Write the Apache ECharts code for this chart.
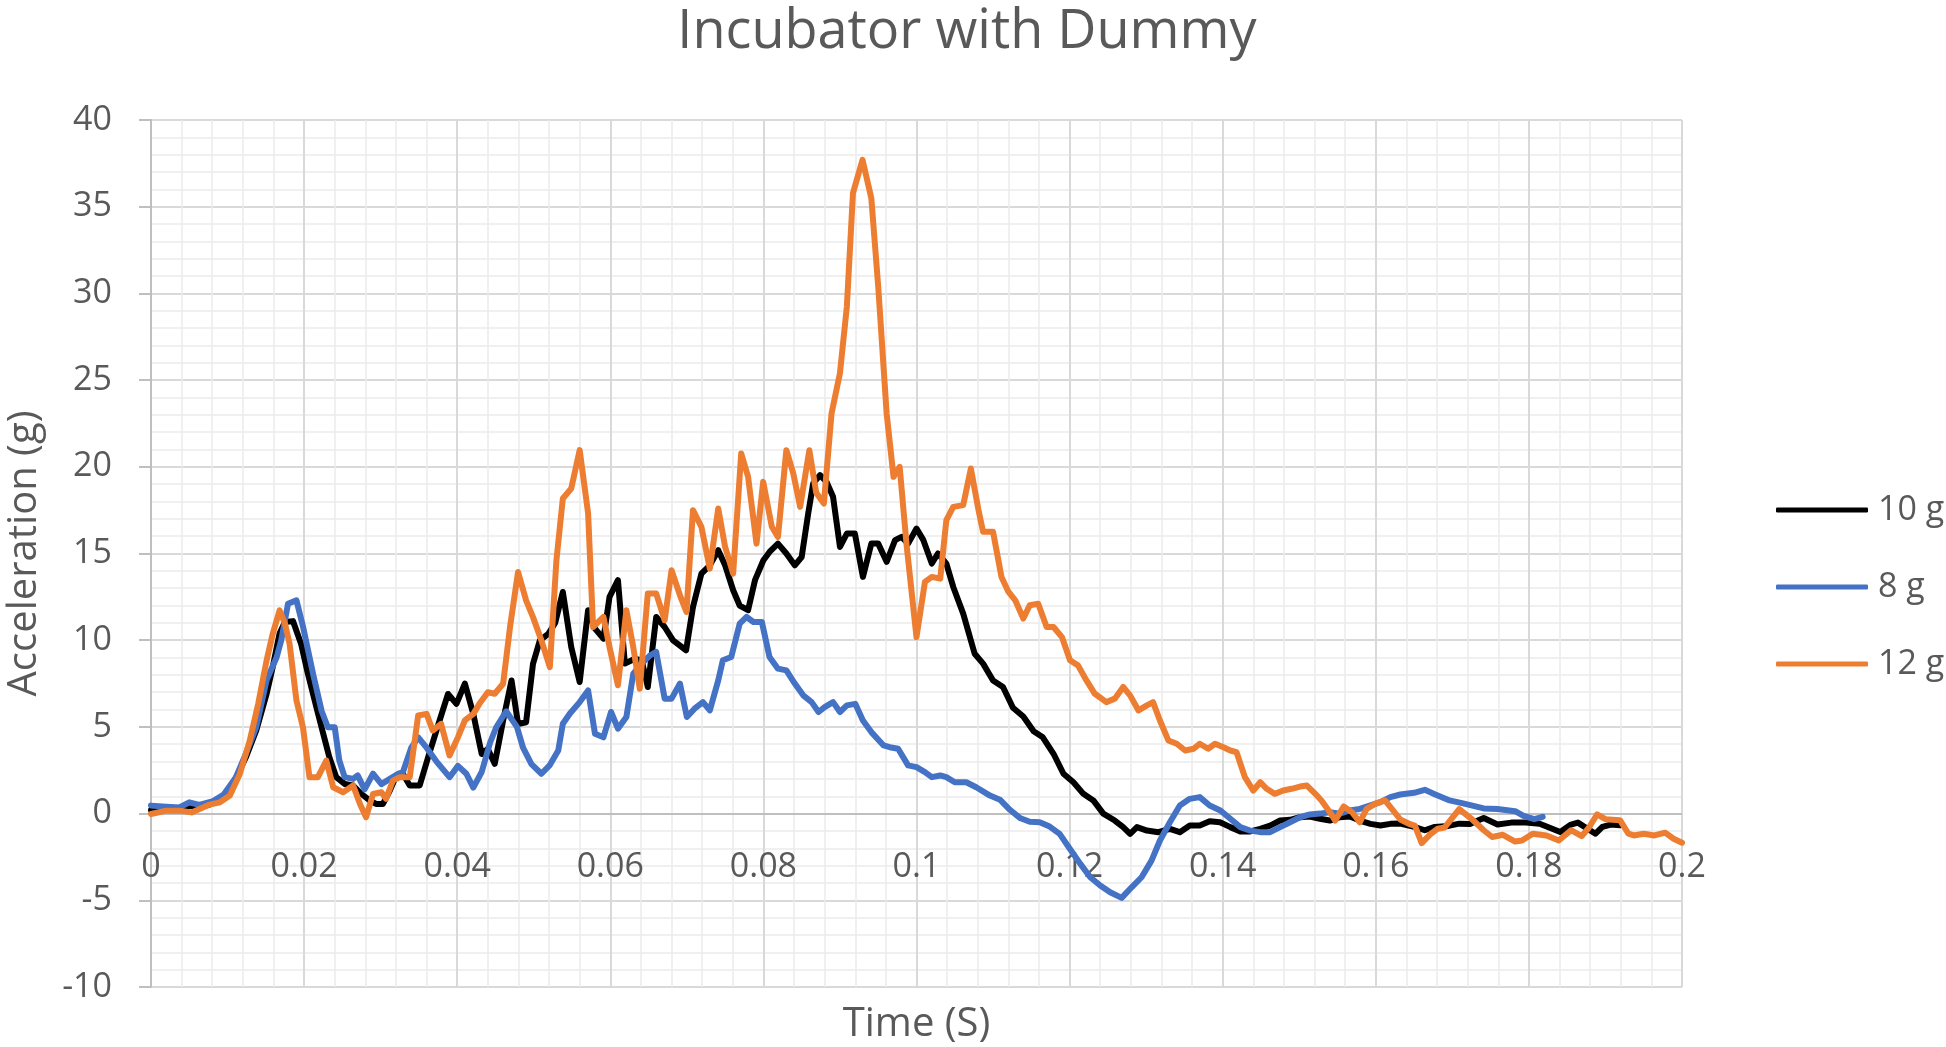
<!DOCTYPE html>
<html>
<head>
<meta charset="utf-8">
<script src="https://cdn.jsdelivr.net/npm/echarts@6/dist/echarts.min.js"></script>
<style>
html,body{margin:0;padding:0;background:#ffffff;}
#chart{width:1946px;height:1047px;}
</style>
</head>
<body>
<div id="chart"></div>
<script>
// ---- Data (time in s, acceleration in g) ----
const chartTitle = 'Incubator with Dummy';
const xTitle = 'Time (S)';
const yTitle = 'Acceleration (g)';
const seriesNames = ['10 g', '8 g', '12 g'];
const seriesColors = ['#000000', '#4472C4', '#ED7D31'];

const s10g = [
[0,0.2],[0.002,0.25],[0.004,0.3],[0.005,0.45],[0.006,0.4],[0.0075,0.5],[0.009,0.8],[0.010,1.2],
[0.0107,1.71],[0.0124,3.25],[0.01375,4.79],[0.0151,6.9],[0.0159,8.45],[0.0168,10.4],[0.0175,11.05],[0.01855,11.1],
[0.0196,9.8],[0.0205,8.06],[0.0216,6.14],[0.0225,4.6],[0.0233,3.25],[0.0242,2.1],[0.0253,1.71],[0.0264,1.62],
[0.0275,1.13],[0.0286,0.75],[0.0294,0.56],[0.0303,0.56],[0.0312,1.33],[0.03205,2.2],[0.0329,2.3],[0.0338,1.62],
[0.0351,1.62],[0.0362,3.25],[0.0377,5.37],[0.0388,6.9],[0.0399,6.33],[0.0410,7.5],[0.0421,5.75],[0.0432,3.44],
[0.0440,3.73],[0.0449,2.87],[0.0460,5.37],[0.0471,7.68],[0.04795,5.17],[0.0490,5.27],[0.0499,8.64],[0.0508,9.99],
[0.0519,10.37],[0.0528,11.0],[0.0538,12.78],[0.0549,9.6],[0.0560,7.59],[0.0571,11.73],[0.0580,10.67],[0.0591,10.09],
[0.0599,12.5],[0.0610,13.46],[0.0619,8.65],[0.0632,8.93],[0.0641,8.84],[0.0649,7.3],[0.0660,11.34],[0.0671,10.76],
[0.0682,9.99],[0.0699,9.42],[0.0708,11.92],[0.0719,13.84],[0.0730,14.32],[0.0741,15.19],[0.0750,14.32],[0.07605,12.88],
[0.0769,12.0],[0.0780,11.73],[0.0789,13.46],[0.0800,14.61],[0.0808,15.09],[0.0819,15.57],[0.0830,15.0],[0.0841,14.32],
[0.0850,14.8],[0.08585,17.3],[0.0865,19.04],[0.0874,19.52],[0.08825,19.13],[0.0891,18.27],[0.0900,15.38],[0.0909,16.15],
[0.09195,16.15],[0.0930,13.65],[0.0941,15.57],[0.0950,15.57],[0.0961,14.52],[0.0972,15.77],[0.09805,15.96],[0.0989,15.57],
[0.1000,16.44],[0.1009,15.77],[0.1020,14.42],[0.1028,15.0],[0.1039,14.42],[0.1048,13.07],[0.1061,11.53],[0.1076,9.22],
[0.1087,8.65],[0.1100,7.68],[0.1113,7.3],[0.1126,6.1],[0.11395,5.6],[0.1153,4.75],[0.1165,4.4],[0.1179,3.45],
[0.1192,2.3],[0.1205,1.81],[0.1218,1.14],[0.1231,0.76],[0.1244,0],[0.1259,-0.4],[0.1270,-0.78],[0.1279,-1.17],
[0.1288,-0.78],[0.1301,-0.98],[0.1316,-1.07],[0.1331,-0.88],[0.1344,-1.07],[0.1357,-0.69],[0.1370,-0.69],[0.1383,-0.44],
[0.13965,-0.5],[0.1410,-0.78],[0.1423,-1.03],[0.1436,-1.03],[0.1449,-0.88],[0.1462,-0.69],[0.1475,-0.4],[0.1488,-0.36],
[0.1501,-0.21],[0.1514,-0.17],[0.1527,-0.3],[0.1540,-0.4],[0.1553,-0.21],[0.1566,-0.17],[0.1579,-0.4],[0.1593,-0.59],
[0.1606,-0.69],[0.1619,-0.59],[0.1632,-0.57],[0.1650,-0.77],[0.1664,-0.96],[0.1677,-0.77],[0.1695,-0.71],[0.1709,-0.58],
[0.1723,-0.6],[0.1741,-0.25],[0.1759,-0.63],[0.1777,-0.52],[0.1796,-0.52],[0.1814,-0.58],[0.1828,-0.83],[0.1841,-1.06],
[0.1855,-0.63],[0.1864,-0.52],[0.1875,-0.83],[0.1887,-1.16],[0.1896,-0.77],[0.1907,-0.63],[0.1919,-0.67]
];

const s8g = [
[0,0.46],[0.002,0.4],[0.0037,0.35],[0.005,0.65],[0.0063,0.5],[0.008,0.7],[0.0095,1.1],[0.0111,2.1],
[0.0124,3.45],[0.01375,4.99],[0.0151,7.7],[0.0164,9.0],[0.017,9.97],[0.0179,12.1],[0.019,12.3],[0.0199,10.7],
[0.0212,8.0],[0.0223,5.9],[0.0231,4.98],[0.024,4.98],[0.0246,3.06],[0.0253,2.1],[0.0264,2.0],[0.027,2.2],
[0.0279,1.4],[0.029,2.3],[0.0301,1.7],[0.0312,2.0],[0.0323,2.3],[0.0329,2.38],[0.034,3.8],[0.0349,4.4],
[0.036,3.8],[0.0373,3.0],[0.039,2.1],[0.0401,2.75],[0.0412,2.3],[0.0421,1.5],[0.0432,2.4],[0.0443,4.1],
[0.0451,4.98],[0.0464,5.9],[0.0478,5.0],[0.0486,3.8],[0.0497,2.85],[0.051,2.3],[0.0521,2.8],[0.0532,3.64],
[0.0538,5.18],[0.0547,5.76],[0.056,6.43],[0.0571,7.1],[0.058,4.6],[0.0591,4.4],[0.0601,5.86],[0.061,4.9],
[0.0621,5.57],[0.063,8.07],[0.0641,8.65],[0.0652,9.13],[0.066,9.32],[0.0671,6.63],[0.068,6.63],[0.0691,7.5],
[0.07,5.57],[0.071,6.05],[0.0721,6.43],[0.073,5.95],[0.0741,7.68],[0.0747,8.84],[0.0758,9.03],[0.0769,10.95],
[0.0778,11.34],[0.0787,11.05],[0.0798,11.05],[0.0808,9.03],[0.0819,8.36],[0.083,8.26],[0.0841,7.5],[0.0852,6.82],
[0.0863,6.43],[0.0872,5.86],[0.088,6.14],[0.0891,6.43],[0.09,5.86],[0.0909,6.24],[0.092,6.33],[0.093,5.37],
[0.0941,4.7],[0.0957,3.93],[0.0965,3.83],[0.0976,3.74],[0.0989,2.78],[0.1,2.68],[0.1011,2.39],[0.102,2.1],
[0.1031,2.2],[0.1039,2.1],[0.105,1.81],[0.1065,1.81],[0.1078,1.52],[0.1096,1.04],[0.1109,0.8],[0.1122,0.22],
[0.1135,-0.25],[0.1148,-0.47],[0.1161,-0.5],[0.1174,-0.75],[0.1187,-1.17],[0.12005,-2.04],[0.1214,-2.9],[0.1227,-3.67],
[0.124,-4.15],[0.1253,-4.54],[0.1268,-4.86],[0.1281,-4.25],[0.1294,-3.67],[0.1307,-2.71],[0.1318,-1.55],[0.1331,-0.5],
[0.1344,0.47],[0.1357,0.85],[0.137,0.95],[0.1383,0.47],[0.1397,0.18],[0.141,-0.3],[0.1423,-0.78],[0.1436,-0.98],
[0.1449,-1.07],[0.1462,-1.07],[0.1475,-0.78],[0.1488,-0.5],[0.1501,-0.21],[0.1514,-0.05],[0.1527,0],[0.154,0.08],
[0.1553,0],[0.1566,0.18],[0.1579,0.27],[0.1593,0.47],[0.1606,0.66],[0.1619,0.95],[0.1632,1.1],[0.165,1.2],
[0.1664,1.37],[0.1677,1.12],[0.1695,0.78],[0.1714,0.59],[0.1741,0.3],[0.1759,0.26],[0.1782,0.14],[0.1793,-0.13],
[0.1807,-0.32],[0.1818,-0.19]
];

const s12g = [
[0,-0.02],[0.002,0.17],[0.0037,0.17],[0.0053,0.07],[0.00635,0.27],[0.00765,0.52],[0.009,0.65],[0.0103,1.04],
[0.0116,2.29],[0.0129,4.21],[0.014,6.33],[0.0151,8.83],[0.0159,10.37],[0.0168,11.72],[0.0175,10.95],[0.0181,9.8],
[0.019,6.52],[0.01985,4.98],[0.0207,2.1],[0.0218,2.1],[0.0229,3.06],[0.0238,1.52],[0.0251,1.23],[0.0264,1.62],
[0.0273,0.56],[0.0281,-0.21],[0.029,1.13],[0.0301,1.23],[0.0307,0.85],[0.0316,1.9],[0.0325,2.1],[0.0338,2.1],
[0.0349,5.66],[0.036,5.75],[0.0368,4.79],[0.0379,5.17],[0.039,3.35],[0.0401,4.41],[0.041,5.37],[0.0421,5.75],
[0.0429,6.33],[0.044,7.0],[0.0449,6.91],[0.046,7.49],[0.0469,10.76],[0.04795,13.93],[0.049,12.3],[0.0499,11.33],
[0.051,9.99],[0.0521,8.45],[0.05296,14.6],[0.0538,18.17],[0.0549,18.75],[0.056,20.96],[0.0571,17.31],[0.05775,10.76],
[0.0591,11.34],[0.0599,9.6],[0.061,7.4],[0.0621,11.73],[0.063,9.6],[0.06385,7.2],[0.0649,12.69],[0.066,12.69],
[0.0671,11.15],[0.068,14.03],[0.0691,12.59],[0.06995,11.63],[0.0708,17.5],[0.0719,16.54],[0.073,14.13],[0.0741,17.6],
[0.075,15.38],[0.07605,13.84],[0.0771,20.77],[0.078,19.42],[0.0791,15.57],[0.07997,19.13],[0.0811,16.54],[0.0819,15.96],
[0.083,20.96],[0.0839,19.62],[0.0848,17.69],[0.086,20.96],[0.0869,18.5],[0.0879,17.88],[0.0889,23.07],[0.09,25.4],
[0.0909,29.23],[0.0917,35.78],[0.09295,37.7],[0.0941,35.49],[0.095,30.39],[0.0961,23.07],[0.097,19.42],[0.0978,20.0],
[0.0987,15.5],[0.1,10.18],[0.1011,13.36],[0.102,13.65],[0.1031,13.55],[0.1039,16.92],[0.1048,17.69],[0.1061,17.79],
[0.1071,19.9],[0.1081,17.5],[0.1087,16.25],[0.11,16.25],[0.1111,13.65],[0.112,12.8],[0.1129,12.3],[0.11395,11.25],
[0.1148,12.02],[0.1159,12.1],[0.117,10.76],[0.1179,10.76],[0.119,10.18],[0.12005,8.84],[0.1211,8.55],[0.1222,7.68],
[0.1233,6.91],[0.1248,6.43],[0.1259,6.63],[0.127,7.3],[0.1279,6.82],[0.129,5.95],[0.1301,6.24],[0.1309,6.43],
[0.1318,5.37],[0.1329,4.22],[0.134,4.03],[0.1351,3.64],[0.1362,3.74],[0.137,4.03],[0.1381,3.74],[0.139,4.03],
[0.1401,3.83],[0.141,3.64],[0.1418,3.55],[0.1429,2.1],[0.144,1.33],[0.1449,1.81],[0.14575,1.43],[0.1468,1.14],
[0.1479,1.33],[0.149,1.43],[0.1501,1.56],[0.151,1.62],[0.1521,1.14],[0.1529,0.76],[0.154,0.08],[0.1547,-0.4],
[0.1558,0.41],[0.1569,0.08],[0.1579,-0.5],[0.1588,0.27],[0.1599,0.56],[0.1612,0.76],[0.1621,0.27],[0.1632,-0.34],
[0.1644,-0.6],[0.1651,-0.69],[0.166,-1.7],[0.1672,-1.16],[0.1681,-0.87],[0.169,-0.8],[0.1709,0.26],[0.1727,-0.38],
[0.1741,-0.96],[0.1752,-1.35],[0.1766,-1.22],[0.1782,-1.61],[0.1791,-1.55],[0.1805,-1.16],[0.1823,-1.26],[0.1839,-1.55],
[0.1855,-0.96],[0.1869,-1.3],[0.1878,-0.83],[0.1889,-0.05],[0.19,-0.32],[0.1919,-0.38],[0.193,-1.16],[0.1937,-1.26],
[0.195,-1.16],[0.1964,-1.26],[0.1978,-1.1],[0.1989,-1.45],[0.2,-1.68]
];

const xMin = 0, xMax = 0.2, xStep = 0.02;
const yMin = -10, yMax = 40, yStep = 5;
const xAxisCrossAt = 0; // horizontal axis crosses the vertical axis at y = 0

// ---- Chart ----
const FONT = '"Open Sans"';
const TXT = '#595959';
const chart = echarts.init(document.getElementById('chart'), null, {renderer: 'canvas'});
const seriesData = [s10g, s8g, s12g];

chart.setOption({
  animation: false,
  backgroundColor: '#ffffff',
  textStyle: {fontFamily: FONT},
  title: {
    text: chartTitle,
    left: 962,
    textAlign: 'center',
    top: 1,
    textStyle: {fontFamily: FONT, fontSize: 54, fontWeight: 'normal', color: TXT}
  },
  legend: {
    orient: 'vertical',
    left: 1771,
    top: 485,
    icon: 'roundRect',
    itemWidth: 92,
    itemHeight: 5,
    itemGap: 37,
    data: seriesNames,
    textStyle: {fontFamily: FONT, fontSize: 34, color: TXT, lineHeight: 40, padding: [0, 0, 0, 5]}
  },
  grid: {left: 151, top: 120, width: 1531, height: 867, containLabel: false, outerBoundsMode: 'none'},
  xAxis: {
    type: 'value', min: xMin, max: xMax, interval: xStep,
    name: xTitle, nameLocation: 'middle', nameGap: 18,
    nameTextStyle: {fontFamily: FONT, fontSize: 40, color: TXT},
    axisLine: {show: false, onZero: false},
    axisTick: {show: false},
    axisLabel: {
      color: TXT, fontFamily: FONT, fontSize: 34, margin: -137,
      formatter: v => (v === 0 ? '0' : String(parseFloat(v.toFixed(2))))
    },
    splitLine: {show: true, lineStyle: {color: '#d9d9d9', width: 2}},
    minorTick: {show: false, splitNumber: 5},
    minorSplitLine: {show: true, lineStyle: {color: '#ececec', width: 1.5}}
  },
  yAxis: {
    type: 'value', min: yMin, max: yMax, interval: yStep,
    name: yTitle, nameLocation: 'middle', nameGap: 106,
    nameTextStyle: {fontFamily: FONT, fontSize: 40, color: TXT},
    axisLine: {show: true, onZero: false, lineStyle: {color: '#bfbfbf', width: 2}},
    axisTick: {show: true, length: 12, lineStyle: {color: '#bfbfbf', width: 2}},
    axisLabel: {color: TXT, fontFamily: FONT, fontSize: 34, margin: 39},
    splitLine: {show: true, lineStyle: {color: '#d9d9d9', width: 2}},
    minorTick: {show: false, splitNumber: 5},
    minorSplitLine: {show: true, lineStyle: {color: '#ececec', width: 1.5}}
  },
  series: seriesNames.map((name, i) => ({
    name: name,
    type: 'line',
    data: seriesData[i],
    showSymbol: false,
    symbol: 'none',
    smooth: false,
    color: seriesColors[i],
    lineStyle: {color: seriesColors[i], width: 6, join: 'round', cap: 'round'},
    z: 2 + i,
    markLine: i === 0 ? {
      silent: true,
      symbol: 'none',
      z: 1,
      label: {show: false},
      lineStyle: {color: '#bfbfbf', width: 2, type: 'solid'},
      data: [{yAxis: xAxisCrossAt}]
    } : undefined
  }))
});
</script>
</body>
</html>
